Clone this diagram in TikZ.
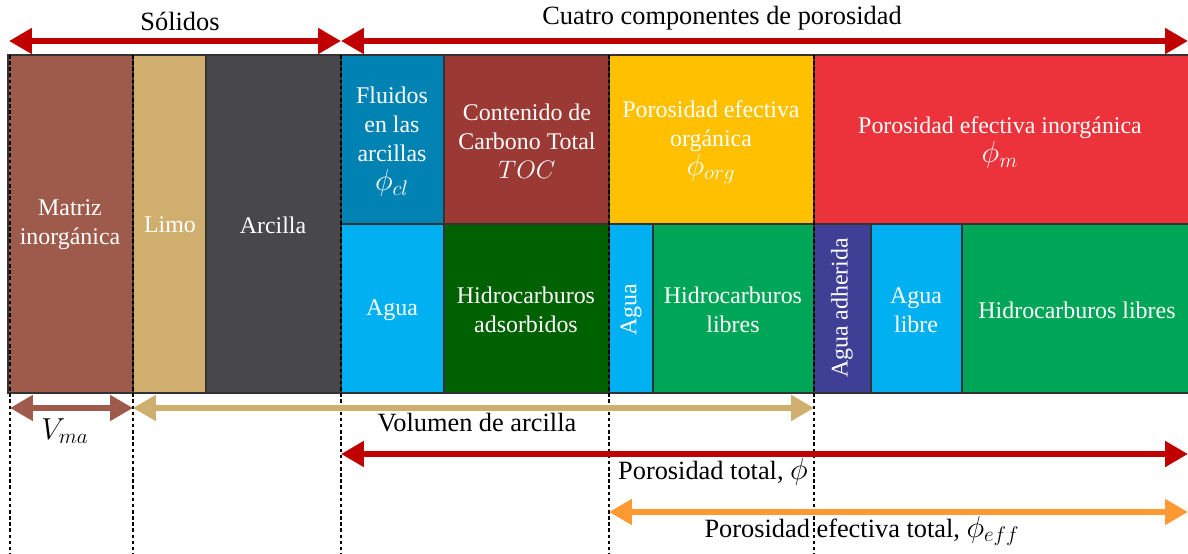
\documentclass[tikz,border=0pt]{standalone}
\usepackage{fontspec}
\setmainfont{Liberation Serif}
\usetikzlibrary{arrows.meta}

\definecolor{cmatriz}{RGB}{158,91,75}
\definecolor{climo}{RGB}{208,174,110}
\definecolor{carcilla}{RGB}{72,72,74}
\definecolor{cfluido}{RGB}{0,130,178}
\definecolor{ctoc}{RGB}{155,57,52}
\definecolor{corg}{RGB}{255,192,0}
\definecolor{cinorg}{RGB}{236,50,58}
\definecolor{cagua}{RGB}{0,176,240}
\definecolor{cads}{RGB}{0,97,0}
\definecolor{clibre}{RGB}{0,166,88}
\definecolor{cadh}{RGB}{63,63,149}
\definecolor{crojo}{RGB}{192,0,0}
\definecolor{cnaranja}{RGB}{255,153,51}

% simbolos un poco mas grandes
\newcommand{\simb}[1]{{\fontsize{16.5}{18}\selectfont$#1$}}

\tikzset{
  caja/.style={draw=black!80, line width=0.6pt},
  etiq/.style={text=white, align=center, font=\fontsize{13.6}{16.5}\selectfont},
  rotulo/.style={text=black, align=center, font=\fontsize{15}{18}\selectfont},
  flecha/.style={line width=3.8pt, {Triangle[length=13pt,width=14pt]}-{Triangle[length=13pt,width=14pt]}},
  guia/.style={black, line width=0.6pt, dash pattern=on 2pt off 1.5pt},
}

\begin{document}
\begin{tikzpicture}[x=0.02cm, y=-0.02cm]
\useasboundingbox (0,0) rectangle (1188,554);

% Solidos
\filldraw [caja, fill=cmatriz] (8,55) rectangle (133,393);
\filldraw [caja, fill=climo] (133,55) rectangle (206,393);
\filldraw [caja, fill=carcilla] (206,55) rectangle (341,393);

% Porosidad (fila superior)
\filldraw [caja, fill=cfluido] (341,55) rectangle (444,224);
\filldraw [caja, fill=ctoc] (444,55) rectangle (609,224);
\filldraw [caja, fill=corg] (609,55) rectangle (814,224);
\filldraw [caja, fill=cinorg] (814,55) rectangle (1190,224);

% Porosidad (fila inferior)
\filldraw [caja, fill=cagua] (341,224) rectangle (444,393);
\filldraw [caja, fill=cads] (444,224) rectangle (609,393);
\filldraw [caja, fill=cagua] (609,224) rectangle (653,393);
\filldraw [caja, fill=clibre] (653,224) rectangle (814,393);
\filldraw [caja, fill=cadh] (814,224) rectangle (871,393);
\filldraw [caja, fill=cagua] (871,224) rectangle (962,393);
\filldraw [caja, fill=clibre] (962,224) rectangle (1190,393);

% Lineas guia
\foreach \gx in {10,133,341,609,814}
  \draw [guia] (\gx,55) -- (\gx,554);

% Etiquetas de los bloques
\node [etiq] (matriz) at (70,225) {Matriz\\inorgánica};
\node [etiq] (limo) at (170,225) {Limo};
\node [etiq] (arcilla) at (273,225) {Arcilla};
\node [etiq] (fluidos) at (392,142) {Fluidos\\en las\\arcillas\\\simb{\phi_{cl}}};
\node [etiq] (toc) at (527,141) {Contenido de\\Carbono Total\\$TOC$};
\node [etiq] (porg) at (711,142) {Porosidad efectiva\\orgánica\\\simb{\phi_{org}}};
\node [etiq] (pinorg) at (1000,143) {Porosidad efectiva inorgánica\\\simb{\phi_{m}}};
\node [etiq] (agua) at (392,310) {Agua};
\node [etiq] (hcads) at (526,310) {Hidrocarburos\\adsorbidos};
\node [etiq, rotate=90] (aguaorg) at (631,310) {Agua};
\node [etiq] (hclib) at (733,310) {Hidrocarburos\\libres};
\node [etiq, rotate=90] (aguaadh) at (842,308) {Agua adherida};
\node [etiq] (agualib) at (916,310) {Agua\\libre};
\node [etiq] (hclibinorg) at (1077,310) {Hidrocarburos libres};

% Flechas superiores
\coordinate (s0) at (9,41);
\coordinate (s1) at (341,41);
\coordinate (s2) at (1188,41);
\draw [flecha, crojo] (s0) -- (s1);
\draw [flecha, crojo] (s1) -- (s2);
\node [rotulo] (solidos) at (180,21) {Sólidos};
\node [rotulo] (cuatro) at (722,18) {Cuatro componentes de porosidad};

% Flechas inferiores
\coordinate (v0) at (10,408);
\coordinate (v1) at (133,408);
\coordinate (v2) at (814,408);
\coordinate (t0) at (341,454);
\coordinate (t1) at (1188,454);
\coordinate (e0) at (609,512);
\coordinate (e1) at (1188,512);
\draw [flecha, cmatriz] (v0) -- (v1);
\draw [flecha, climo] (v1) -- (v2);
\draw [flecha, crojo] (t0) -- (t1);
\draw [flecha, cnaranja] (e0) -- (e1);
\node [rotulo] (vma) at (65,431) {\simb{V_{ma}}};
\node [rotulo] (volarc) at (477,423) {Volumen de arcilla};
\node [rotulo] (ptotal) at (713,472) {Porosidad total, \simb{\phi}};
\node [rotulo] (pefec) at (862,531) {Porosidad efectiva total, \simb{\phi_{eff}}};
\end{tikzpicture}
\end{document}
